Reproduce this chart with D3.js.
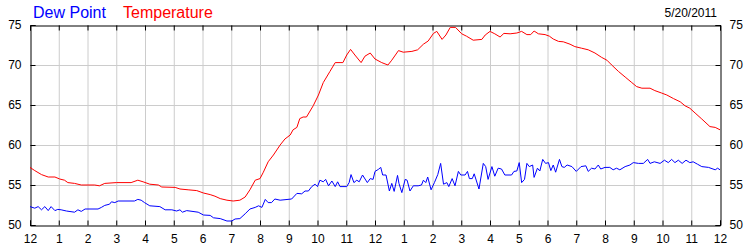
<!DOCTYPE html>
<html>
<head>
<meta charset="utf-8">
<script src="https://cdn.jsdelivr.net/npm/d3@7"></script>
<style>
  body { margin: 0; background: #fff; }
  svg { display: block; font-family: "Liberation Sans", Arial, sans-serif; }
</style>
</head>
<body>
<svg id="chart" width="750" height="250"></svg>
<script>
// readings for 5/20/2011, times as HH:MM
const tempTimes = ["00:00","00:10","00:24","00:38","00:52","01:02","01:12","01:19","01:33","01:47","02:15","02:25","02:36","03:00","03:31","03:45","03:56","04:10","04:28","04:35","05:03","05:13","05:30","05:48","06:02","06:16","06:26","06:37","06:51","07:04","07:18","07:29","07:39","07:50","08:00","08:07","08:17","08:28","08:42","08:52","09:03","09:09","09:17","09:23","09:30","09:37","09:51","10:02","10:12","10:26","10:37","10:47","10:53","11:01","11:09","11:18","11:31","11:39","11:50","12:00","12:14","12:27","12:35","12:49","12:59","13:17","13:29","13:41","13:51","14:02","14:09","14:20","14:28","14:37","14:48","15:01","15:11","15:25","15:43","15:50","16:00","16:10","16:21","16:29","16:42","16:56","17:06","17:17","17:25","17:32","17:41","17:55","18:04","18:12","18:23","18:33","18:47","18:57","19:11","19:25","19:39","19:53","20:04","20:14","20:28","20:42","20:56","21:06","21:17","21:34","21:44","21:58","22:09","22:23","22:37","22:47","22:57","23:08","23:22","23:39","23:50","24:00"];
const tempValues = [57.2,56.8,56.3,56.0,56.0,55.75,55.6,55.3,55.2,55.0,55.0,54.9,55.2,55.3,55.3,55.6,55.4,55.1,55.0,54.75,54.7,54.5,54.4,54.3,54.0,53.8,53.6,53.3,53.1,53.0,53.1,53.5,54.4,55.6,55.8,56.6,57.9,58.75,60.0,60.75,61.25,61.9,62.2,63.3,63.5,63.5,64.9,66.25,67.8,69.2,70.3,70.3,70.3,71.25,71.95,71.25,70.3,71.1,71.5,70.75,70.3,70.0,70.6,71.8,71.6,71.7,71.9,72.6,73.0,73.95,74.2,73.2,73.75,74.7,74.7,73.9,73.6,73.1,73.2,73.75,74.2,73.9,73.5,73.95,73.9,74.0,74.2,73.8,73.8,74.25,73.9,73.8,73.6,73.25,72.95,72.9,72.6,72.3,72.1,71.9,71.5,70.95,70.6,70.0,69.2,68.5,67.8,67.3,67.1,67.1,66.8,66.5,66.25,65.8,65.4,64.9,64.6,64.0,63.25,62.3,62.2,61.9];

const dewTimes = ["00:00","00:10","00:17","00:24","00:31","00:38","00:44","00:52","00:58","01:05","01:16","01:33","01:40","01:47","01:55","02:22","02:29","02:36","02:46","02:50","02:57","03:04","03:38","03:45","03:52","03:59","04:10","04:31","04:42","04:56","05:06","05:13","05:18","05:27","05:51","06:02","06:16","06:23","06:37","06:51","07:01","07:08","07:18","07:29","07:39","07:50","07:57","08:04","08:11","08:17","08:24","08:31","08:42","09:06","09:17","09:27","09:34","09:41","09:48","09:55","10:00","10:05","10:12","10:17","10:23","10:30","10:37","10:42","10:47","11:01","11:06","11:10","11:16","11:22","11:27","11:34","11:44","11:50","11:56","12:00","12:07","12:12","12:16","12:23","12:30","12:35","12:40","12:47","12:50","12:56","13:03","13:07","13:13","13:20","13:30","13:37","13:41","13:46","13:50","13:57","14:04","14:11","14:17","14:23","14:30","14:34","14:41","14:47","14:54","14:59","15:08","15:13","15:17","15:23","15:27","15:37","15:46","15:51","15:56","16:04","16:10","16:17","16:24","16:31","16:45","16:50","16:56","17:01","17:06","17:12","17:17","17:22","17:29","17:32","17:39","17:44","17:50","17:56","18:02","18:07","18:12","18:17","18:25","18:30","18:35","18:41","18:51","19:00","19:10","19:20","19:25","19:32","19:39","19:46","19:51","20:00","20:10","20:17","20:24","20:31","20:42","20:52","20:59","21:10","21:20","21:29","21:34","21:43","21:55","22:04","22:12","22:19","22:26","22:33","22:41","22:49","22:57","23:04","23:13","23:22","23:36","23:50","23:55","24:00"];
const dewValues = [52.3,52.1,52.3,51.9,52.3,51.8,52.3,51.8,51.95,51.9,51.75,51.6,51.9,51.7,52.0,52.0,52.2,52.45,52.6,52.9,52.8,53.0,53.0,53.2,53.1,52.8,52.4,52.3,51.9,51.9,51.75,51.9,51.6,51.8,51.6,51.25,51.2,50.9,50.8,50.5,50.5,50.75,50.8,51.4,52.0,52.2,52.4,52.2,53.2,52.8,52.8,53.25,53.1,53.25,53.95,53.9,54.25,54.25,54.8,55.1,54.8,55.6,55.4,55.7,54.9,55.5,54.8,55.4,54.8,54.8,55.3,56.3,55.3,55.6,55.4,56.25,55.3,55.8,55.7,56.7,56.95,57.2,56.25,56.25,54.25,55.2,54.2,56.2,55.2,54.05,55.7,55.6,54.25,54.9,54.9,55.0,55.6,55.3,56.0,54.4,55.3,56.3,57.7,55.1,55.3,54.8,55.8,54.9,56.7,56.25,56.25,56.7,55.8,55.8,56.4,54.5,57.7,57.3,55.7,57.3,56.1,57.1,57.0,56.25,56.25,56.7,56.75,57.8,55.3,55.7,57.7,57.3,57.5,55.95,57.1,56.75,58.2,57.7,57.8,56.8,57.5,56.6,58.2,57.3,57.2,57.5,57.3,56.7,57.3,57.4,56.7,57.1,57.0,57.5,57.0,57.2,57.2,56.9,57.1,56.9,57.3,57.5,57.8,57.7,57.7,58.2,57.7,57.9,57.7,58.1,57.8,58.2,57.8,58.1,57.7,58.1,57.8,57.9,57.6,57.3,57.2,56.9,57.1,56.9];

const hourLabels = ["12","1","2","3","4","5","6","7","8","9","10","11","12","1","2","3","4","5","6","7","8","9","10","11","12"];
const yTicks = [50, 55, 60, 65, 70, 75];
const dateLabel = "5/20/2011";

const toMin = (s) => {
  const [h, m] = s.split(":").map(Number);
  return h * 60 + m;
};
const temp = tempTimes.map((t, i) => ({ t: toMin(t), v: tempValues[i] }));
const dew = dewTimes.map((t, i) => ({ t: toMin(t), v: dewValues[i] }));

const plotLeft = 30, plotRight = 720, plotTop = 25, plotBottom = 225;
const svg = d3.select("#chart");

const x = d3.scaleLinear().domain([0, 1440]).range([plotLeft, plotRight]);
const y = d3.scaleLinear().domain([50, 75]).range([plotBottom, plotTop]);
const hourTicks = d3.range(0, 1441, 60);

// grid
svg.append("g")
  .selectAll("line")
  .data(hourTicks.slice(1, -1))
  .join("line")
  .attr("x1", (d) => x(d) + 0.5).attr("x2", (d) => x(d) + 0.5)
  .attr("y1", plotTop).attr("y2", plotBottom)
  .attr("stroke", "#cccccc");
svg.append("g")
  .selectAll("line")
  .data(yTicks.slice(1, -1))
  .join("line")
  .attr("y1", (d) => y(d) + 0.5).attr("y2", (d) => y(d) + 0.5)
  .attr("x1", plotLeft).attr("x2", plotRight)
  .attr("stroke", "#cccccc");

// axes, ticks pointing inward
const xb = d3.axisBottom(x).tickValues(hourTicks).tickSize(-5).tickPadding(9)
  .tickFormat((d, i) => hourLabels[i]);
const xt = d3.axisTop(x).tickValues(hourTicks).tickSize(-5).tickFormat("");
const yl = d3.axisLeft(y).tickValues(yTicks).tickSize(-5).tickPadding(9);
const yr = d3.axisRight(y).tickValues(yTicks).tickSize(-5).tickPadding(9);

const styleAxis = (g) => {
  g.select(".domain").attr("stroke", "#000");
  g.selectAll(".tick line").attr("stroke", "#000");
  g.selectAll("text").attr("fill", "#000").attr("font-size", "12px")
    .attr("font-family", "'Liberation Sans', Arial, sans-serif");
};
svg.append("g").attr("transform", `translate(0,${plotBottom + 0.5})`).call(xb).call(styleAxis);
svg.append("g").attr("transform", `translate(0,${plotTop + 0.5})`).call(xt).call(styleAxis);
svg.append("g").attr("transform", `translate(${plotLeft + 0.5},0)`).call(yl).call(styleAxis);
svg.append("g").attr("transform", `translate(${plotRight + 0.5},0)`).call(yr).call(styleAxis);

// lines
const line = d3.line().x((d) => x(d.t)).y((d) => y(d.v));
svg.append("path").datum(dew)
  .attr("fill", "none").attr("stroke", "#0000ff").attr("stroke-width", 1)
  .attr("d", line);
svg.append("path").datum(temp)
  .attr("fill", "none").attr("stroke", "#ff0000").attr("stroke-width", 1)
  .attr("d", line);

// legend + date
svg.append("text").attr("x", 33).attr("y", 18)
  .attr("font-size", "16px").attr("fill", "#0000ff").text("Dew Point");
svg.append("text").attr("x", 123).attr("y", 18)
  .attr("font-size", "16px").attr("fill", "#ff0000").text("Temperature");
svg.append("text").attr("x", 717).attr("y", 17).attr("text-anchor", "end")
  .attr("font-size", "12px").attr("fill", "#000").text(dateLabel);
</script>
</body>
</html>
